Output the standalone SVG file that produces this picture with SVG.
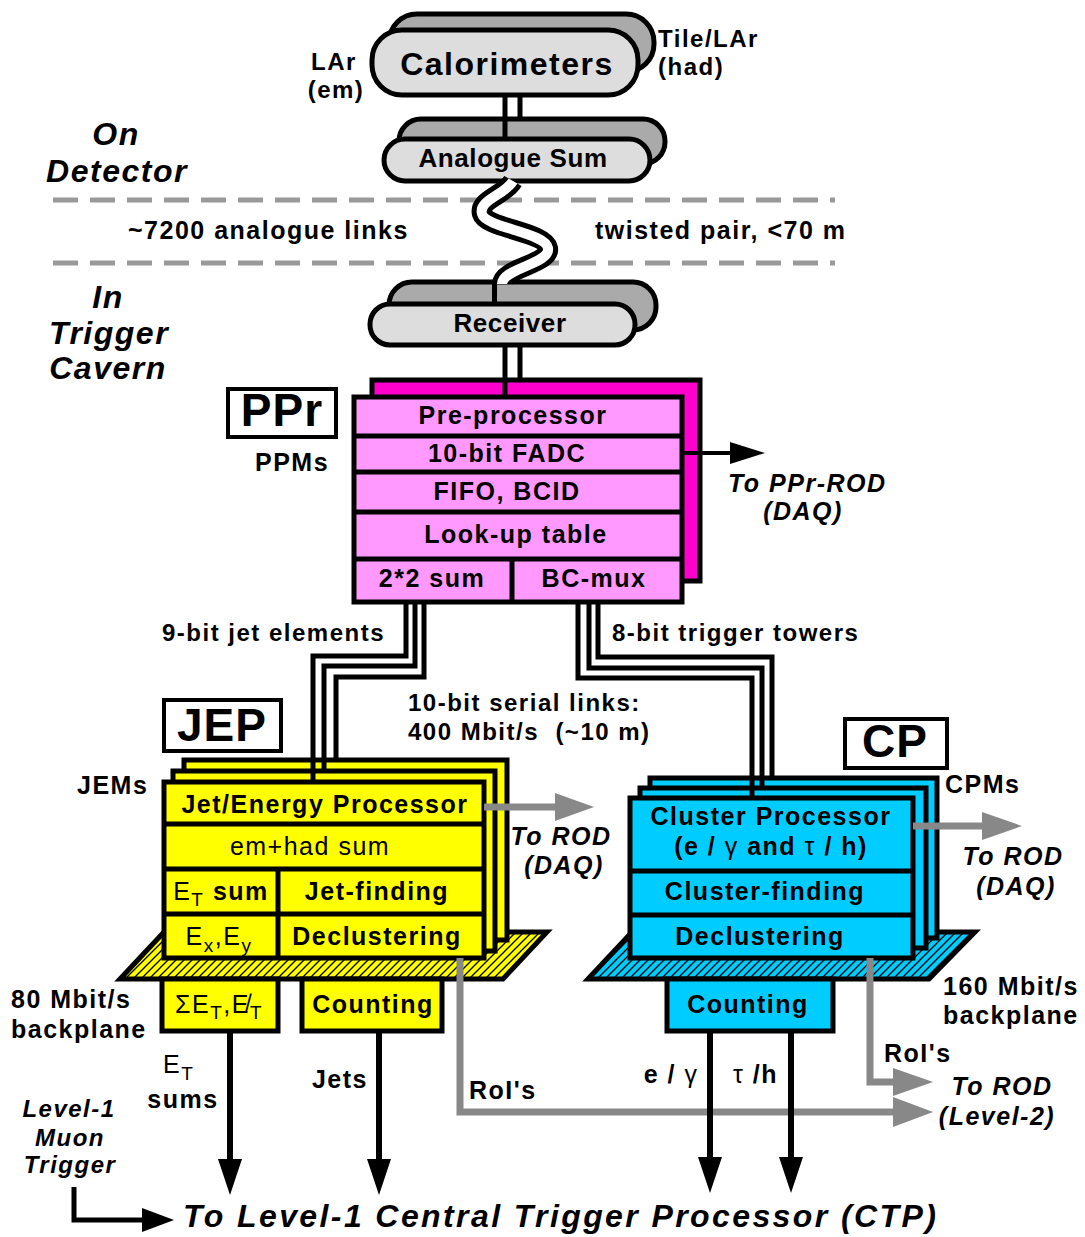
<svg xmlns="http://www.w3.org/2000/svg" width="1085" height="1237" viewBox="0 0 1085 1237">
<defs>
<style>
text{font-family:"Liberation Sans",Arial,"DejaVu Sans",sans-serif;font-weight:bold;font-size:25px;letter-spacing:1.5px;fill:#000}
.m{text-anchor:middle}
.i{font-style:italic}
.n{font-weight:normal}
.big{font-size:46px;letter-spacing:1px}
.ttl{font-size:32px}
.pl{font-size:26px;letter-spacing:0.6px}
.sub{font-size:19px;font-weight:normal}
.pillB{fill:#aaaaaa;stroke:#000;stroke-width:5}
.pillF{fill:#dddddd;stroke:#000;stroke-width:5}
.blk{stroke:#000;stroke-width:5;fill:none}
.ppB{fill:#ff00cc;stroke:#000;stroke-width:5}
.pp{fill:#ff99ff;stroke:#000;stroke-width:5}
.ye{fill:#ffff00;stroke:#000;stroke-width:5}
.cy{fill:#00ccff;stroke:#000;stroke-width:5}
.box{fill:#fff;stroke:#000;stroke-width:4}
.gl{stroke:#888;stroke-width:7;fill:none}
.ga{fill:#888}
.dash{stroke:#999;stroke-width:5;stroke-dasharray:25 12}
</style>
<pattern id="hy" patternUnits="userSpaceOnUse" width="8" height="8"><rect width="8" height="8" fill="#ffff00"/><path d="M-2,2 L2,-2 M0,8 L8,0 M6,10 L10,6" stroke="#000" stroke-width="1.3"/></pattern>
<pattern id="hc" patternUnits="userSpaceOnUse" width="8" height="8"><rect width="8" height="8" fill="#00ccff"/><path d="M-2,2 L2,-2 M0,8 L8,0 M6,10 L10,6" stroke="#000" stroke-width="1.3"/></pattern>
</defs>
<rect width="1085" height="1237" fill="#fff"/>

<!-- side labels -->
<g id="region-labels">
<text class="ttl i m" x="116" y="145">On</text>
<text class="ttl i m" x="117" y="182">Detector</text>
<text class="ttl i m" x="108" y="308">In</text>
<text class="ttl i m" x="109" y="344">Trigger</text>
<text class="ttl i m" x="108" y="379">Cavern</text>
<line class="dash" x1="53" y1="200" x2="835" y2="200"/>
<line class="dash" x1="53" y1="263" x2="835" y2="263"/>
<text x="128" y="239">~7200 analogue links</text>
<text x="595" y="239">twisted pair, &lt;70 m</text>
</g>

<g id="calorimeters">
<rect class="pillB" x="389" y="14" width="265" height="58" rx="28"/>
<rect class="pillF" x="372" y="30" width="266" height="65" rx="30"/>
<text class="m ttl" x="507" y="75">Calorimeters</text>
<text class="m" x="334" y="70" style="font-size:24px">LAr</text>
<text class="m" x="336" y="98" style="font-size:24px">(em)</text>
<text x="658" y="47" style="font-size:24px">Tile/LAr</text>
<text x="658" y="75" style="font-size:24px">(had)</text>
</g>

<g id="analogue-sum">
<rect class="pillB" x="399" y="119" width="266" height="45" rx="22"/>
<rect class="pillF" x="384" y="139" width="266" height="42" rx="21"/>
<text class="m pl" x="513" y="167">Analogue Sum</text>
</g>

<g id="receiver">
<rect class="pillB" x="389" y="282" width="267" height="48" rx="23"/>
<rect class="pillF" x="370" y="304" width="265" height="41" rx="20"/>
<text class="m pl" x="510" y="332">Receiver</text>
</g>

<g id="ppr">
<rect class="ppB" x="372" y="380" width="328" height="201"/>
<rect class="pp" x="354" y="397" width="328" height="205"/>
<path class="blk" d="M354,436 H682 M354,472 H682 M354,512 H682 M354,559 H682 M512,559 V602"/>
<text class="m" x="513" y="424">Pre-processor</text>
<text class="m" x="507" y="462">10-bit FADC</text>
<text class="m" x="507" y="500">FIFO, BCID</text>
<text class="m" x="516" y="543">Look-up table</text>
<text class="m" x="432" y="587">2*2 sum</text>
<text class="m" x="594" y="587">BC-mux</text>
</g>

<g id="ppr-label">
<rect class="box" x="228" y="389" width="108" height="48"/>
<text class="m big" x="282" y="426">PPr</text>
<text class="m" x="292" y="471">PPMs</text>
</g>

<g id="ppr-rod-label">
<text class="i" x="728" y="492">To PPr-ROD</text>
<text class="i m" x="803" y="520">(DAQ)</text>
</g>

<g id="jep">
<polygon points="120,979 164,932 547,932 503,979" fill="url(#hy)" stroke="#000" stroke-width="5" stroke-linejoin="miter"/>
<rect class="ye" x="184" y="760" width="323" height="180"/>
<rect class="ye" x="173" y="771" width="322" height="180"/>
<rect class="ye" x="164" y="782" width="320" height="176"/>
<path class="blk" d="M164,824 H484 M164,869 H484 M164,914 H484 M278,869 V958"/>
<text class="m" x="325" y="813">Jet/Energy Processor</text>
<text class="m n" x="310" y="855">em+had  sum</text>
<text class="m" x="221" y="900"><tspan class="n">E</tspan><tspan class="sub" dy="6">T</tspan><tspan dy="-6"> sum</tspan></text>
<text class="m" x="377" y="900">Jet-finding</text>
<text class="m" x="219" y="945"><tspan class="n">E</tspan><tspan class="sub" dy="7">x</tspan><tspan class="n" dy="-7">,E</tspan><tspan class="sub" dy="7">y</tspan></text>
<text class="m" x="377" y="945">Declustering</text>
<rect class="ye" x="162" y="979" width="116" height="52"/>
<text class="m n" x="219" y="1013">ΣE<tspan class="sub" dy="6">T</tspan><tspan dy="-6">,E&#x338;</tspan><tspan class="sub" dy="6">T</tspan></text>
<rect class="ye" x="302" y="979" width="140" height="52"/>
<text class="m" x="373" y="1013">Counting</text>
</g>

<g id="jep-label">
<rect class="box" x="164" y="700" width="117" height="51"/>
<text class="m big" x="222" y="741">JEP</text>
<text x="77" y="794">JEMs</text>
<text x="11" y="1008">80 Mbit/s</text>
<text x="11" y="1038">backplane</text>
</g>

<g id="cp">
<polygon points="588,979 632,932 975,932 929,979" fill="url(#hc)" stroke="#000" stroke-width="5"/>
<rect class="cy" x="650" y="778" width="287" height="160"/>
<rect class="cy" x="640" y="788" width="286" height="160"/>
<rect class="cy" x="630" y="798" width="283" height="160"/>
<path class="blk" d="M630,871 H913 M630,915 H913"/>
<text class="m" x="771" y="825">Cluster Processor</text>
<text class="m" x="771" y="855">(e / <tspan class="n">γ</tspan>  and <tspan class="n">τ</tspan> / h)</text>
<text class="m" x="765" y="900">Cluster-finding</text>
<text class="m" x="760" y="945">Declustering</text>
<rect class="cy" x="667" y="979" width="166" height="52"/>
<text class="m" x="748" y="1013">Counting</text>
</g>

<g id="cp-label">
<rect class="box" x="845" y="719" width="102" height="49"/>
<text class="m big" x="895" y="757">CP</text>
<text x="945" y="793">CPMs</text>
<text x="943" y="995">160 Mbit/s</text>
<text x="943" y="1024">backplane</text>
</g>

<g id="rod-labels">
<text class="i m" x="561" y="845">To ROD</text>
<text class="i m" x="564" y="874">(DAQ)</text>
<text class="i m" x="1013" y="865">To ROD</text>
<text class="i m" x="1016" y="895">(DAQ)</text>
<text class="i m" x="1002" y="1095">To ROD</text>
<text class="i m" x="997" y="1125">(Level-2)</text>
</g>

<g id="ctp">
<text class="i" x="183" y="1227" style="font-size:32px;letter-spacing:2.4px">To Level-1 Central Trigger Processor (CTP)</text>
</g>

<g id="muon">
<text class="i m" x="69" y="1117" style="font-size:24px">Level-1</text>
<text class="i m" x="70" y="1146" style="font-size:24px">Muon</text>
<text class="i m" x="70" y="1173" style="font-size:24px">Trigger</text>
</g>

<g id="connectors">
<!-- Calorimeters to Analogue Sum -->
<path class="blk" d="M505,96 V139 M520,96 V119"/>
<!-- twisted pair -->
<path d="M513,181 C505,195 478,200 482,214 C486,228 545,232 548,248 C551,264 502,268 502,284" fill="none" stroke="#000" stroke-width="20"/>
<path d="M513,181 C505,195 478,200 482,214 C486,228 545,232 548,248 C551,264 502,268 502,284" fill="none" stroke="#fff" stroke-width="10"/>
<path class="blk" d="M494.5,282 V304"/>
<!-- Receiver to PPr -->
<path class="blk" d="M505,344 V397 M520,344 V380"/>
<!-- PPr to PPr-ROD -->
<line x1="682" y1="453" x2="732" y2="453" stroke="#000" stroke-width="4"/>
<polygon points="730,442 765,453 730,464"/>
<!-- PPr to JEP -->
<path class="blk" d="M406,602 V656 H313 V782 M415,602 V666 H324 V771 M424,602 V677 H336 V760"/>
<text x="162" y="641" style="font-size:24px">9-bit jet elements</text>
<!-- PPr to CP -->
<path class="blk" d="M578,602 V678 H752 V798 M589,602 V668 H762 V788 M598,602 V657 H772 V778"/>
<text x="612" y="641" style="font-size:24px">8-bit trigger towers</text>
<text x="408" y="711" style="font-size:24px">10-bit serial links:</text>
<text x="408" y="740" style="font-size:24px" xml:space="preserve">400 Mbit/s  (~10 m)</text>
<!-- JEP to ROD DAQ -->
<line class="gl" x1="484" y1="807" x2="557" y2="807"/>
<polygon class="ga" points="555,793 594,807 555,821"/>
<!-- CP to ROD DAQ -->
<line class="gl" x1="913" y1="826" x2="984" y2="826"/>
<polygon class="ga" points="982,812 1022,826 982,840"/>
<!-- JEP RoI -->
<path class="gl" d="M460,958 V1112 H895"/>
<polygon class="ga" points="893,1097 933,1112 893,1127"/>
<text x="469" y="1099">RoI's</text>
<!-- CP RoI -->
<path class="gl" d="M870,958 V1082 H895"/>
<polygon class="ga" points="893,1068 933,1082 893,1096"/>
<text x="884" y="1062">RoI's</text>
<!-- JEP to CTP -->
<line x1="230" y1="1031" x2="230" y2="1162" stroke="#000" stroke-width="6"/>
<polygon points="218,1159 242,1159 230,1195"/>
<text x="163" y="1073"><tspan class="n">E</tspan><tspan class="sub" dy="7">T</tspan></text>
<text class="m" x="183" y="1108">sums</text>
<line x1="379" y1="1031" x2="379" y2="1162" stroke="#000" stroke-width="6"/>
<polygon points="367,1159 391,1159 379,1195"/>
<text class="m" x="340" y="1088">Jets</text>
<!-- CP to CTP -->
<line x1="710" y1="1031" x2="710" y2="1160" stroke="#000" stroke-width="6"/>
<polygon points="698,1157 722,1157 710,1193"/>
<text class="m" x="671" y="1083">e / <tspan class="n">γ</tspan></text>
<line x1="791" y1="1031" x2="791" y2="1160" stroke="#000" stroke-width="6"/>
<polygon points="779,1157 803,1157 791,1193"/>
<text x="733" y="1083"><tspan class="n">τ</tspan> /h</text>
<!-- Muon to CTP -->
<path d="M74,1187 V1220 H144" fill="none" stroke="#000" stroke-width="5"/>
<polygon points="142,1208 174,1220 142,1232"/>
</g>
</svg>
